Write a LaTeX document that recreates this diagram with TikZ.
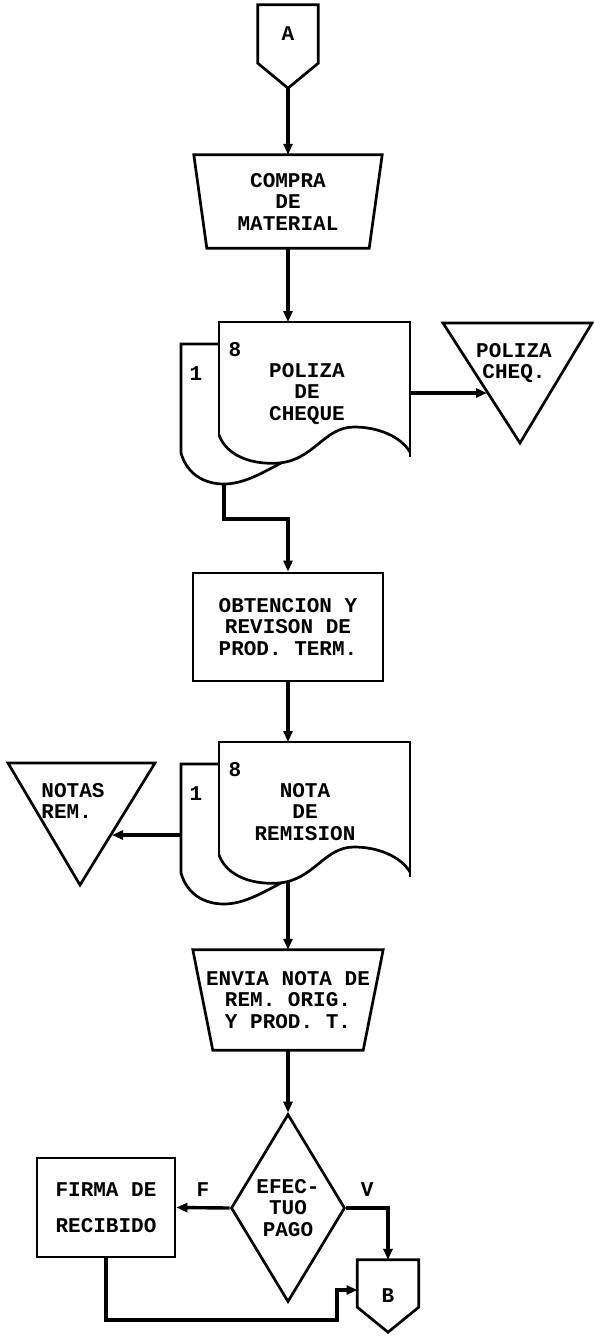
\documentclass[tikz,border=0pt]{standalone}
\usepackage{fontspec}
\setmonofont{Liberation Mono}
\usetikzlibrary{arrows.meta, shapes.geometric}

% document with carbon copy: name, left x of original, top y
\newcommand{\copydoc}[3]{%
  \draw[outline] (#2,#3+22) -- (#2-38,#3+22) -- (#2-38,#3+131)
    .. controls (#2-32,#3+152) and (#2-15,#3+162) .. (#2+5,#3+162)
    .. controls (#2+25,#3+162) and (#2+45,#3+150) .. (#2+62,#3+141);
  \draw[outline] (#2,#3+113) -- (#2,#3) -- (#2+191,#3) -- (#2+191,#3+135);
  \draw[outline] (#2,#3+113)
    .. controls (#2+8,#3+135) and (#2+35,#3+143) .. (#2+60,#3+141)
    .. controls (#2+95,#3+138) and (#2+105,#3+105) .. (#2+135,#3+105)
    .. controls (#2+160,#3+105) and (#2+182,#3+115) .. (#2+191,#3+130);
  \node[txt] (#1-orig) at (#2+16,#3+28) {8};
  \node[txt] (#1-dup) at (#2-23,#3+52) {1};
  \coordinate (#1-top) at (#2+69,#3);
  \coordinate (#1-right) at (#2+191,#3+71);
  \coordinate (#1-left) at (#2-38,#3+93);
  \coordinate (#1-copy) at (#2+5,#3+162);
  \coordinate (#1-out) at (#2+69,#3+140);
}

\begin{document}
\begin{tikzpicture}[
    x=1pt, y=-1pt,
    txt/.style={font=\ttfamily\bfseries\fontsize{21}{21.5}\selectfont, align=center, inner sep=0pt},
    plain/.style={txt, draw=none},
    outline/.style={line width=2.7pt},
    block/.style={txt, draw, outline, rectangle},
    decision/.style={txt, draw, outline, diamond, aspect=0.6},
    flow/.style={line width=3.4pt, -{Triangle[length=11pt,width=9pt]}}
]
    \fill[white] (0,0) rectangle (594,1342);
    \useasboundingbox (0,0) rectangle (594,1342);

    % Entry connector
    \node[plain, minimum width=60pt, minimum height=58pt] (A) at (288,34) {A};
    \draw[outline] (A.north west) -- (A.north east) -- (A.south east)
        -- ([yshift=-25pt]A.south) -- (A.south west) -- cycle;
    \coordinate (A-tip) at ([yshift=-25pt]A.south);

    % Purchase
    \node[plain, minimum width=188pt, minimum height=93pt] (compra) at (288,201.5) {COMPRA\\DE\\MATERIAL};
    \draw[outline] (compra.north west) -- (compra.north east)
        -- ([xshift=-13pt]compra.south east) -- ([xshift=13pt]compra.south west) -- cycle;

    % Cheque voucher
    \copydoc{poliza}{219}{322}
    \node[txt] (poliza) at (307,394) {POLIZA\\DE\\CHEQUE};

    % Voucher file
    \draw[outline] (443,323) -- (592,323) -- (520,443) -- cycle;
    \node[txt] (cheq) at (514,363) {POLIZA\\CHEQ.};
    \coordinate (cheq-in) at (487,393);

    % Checking
    \node[block, minimum width=190pt, minimum height=108pt] (obt) at (288,627) {OBTENCION Y\\REVISON DE\\PROD. TERM.};

    % Delivery note
    \copydoc{nota}{219}{742}
    \node[txt] (nota) at (305,812) {NOTA\\DE\\REMISION};

    % Notes file
    \draw[outline] (8,763) -- (155,763) -- (80,885) -- cycle;
    \node[txt, align=left] (notas) at (73,801) {NOTAS\\REM.};
    \coordinate (notas-in) at (112,835);

    % Sending
    \node[plain, minimum width=190pt, minimum height=100pt] (envia) at (288,1000) {ENVIA NOTA DE\\REM. ORIG.\\Y PROD. T.};
    \draw[outline] (envia.north west) -- (envia.north east)
        -- ([xshift=-20pt]envia.south east) -- ([xshift=20pt]envia.south west) -- cycle;

    % Decision
    \node[decision, minimum width=114pt, minimum height=188pt] (pago) at (288,1208) {EFEC-\\TUO\\PAGO};
    \node[block, minimum width=138pt, minimum height=99pt] (firma) at (106,1207.5) {FIRMA DE\\[14pt]RECIBIDO};

    % Exit connector
    \node[plain, minimum width=61pt, minimum height=72pt] (B) at (388,1296) {B};
    \draw[outline] (B.north west) -- (B.north east) -- ([yshift=25pt]B.south east)
        -- (B.south) -- ([yshift=25pt]B.south west) -- cycle;
    \coordinate (B-in) at (357.5,1290);
    \coordinate (loop) at (337,1320);

    % Connections
    \draw[flow] (A-tip) -- (compra.north);
    \draw[flow] (compra.south) -- (poliza-top);
    \draw[flow] (poliza-right) -- (cheq-in);
    \draw[flow] (poliza-copy) -- ++(0,35) -| (obt.north);
    \draw[flow] (obt.south) -- (nota-top);
    \draw[flow] (nota-left) -- (notas-in);
    \draw[flow] (nota-out) -- (envia.north);
    \draw[flow] (envia.south) -- (pago.north);
    \draw[flow] (pago.west) -- node[txt, above=10pt]{F} (firma.east);
    \draw[flow] (pago.east) -| node[txt, above=10pt, pos=0.25]{V} (B.north);
    \draw[flow] (firma.south) |- (loop) |- (B-in);
\end{tikzpicture}
\end{document}
